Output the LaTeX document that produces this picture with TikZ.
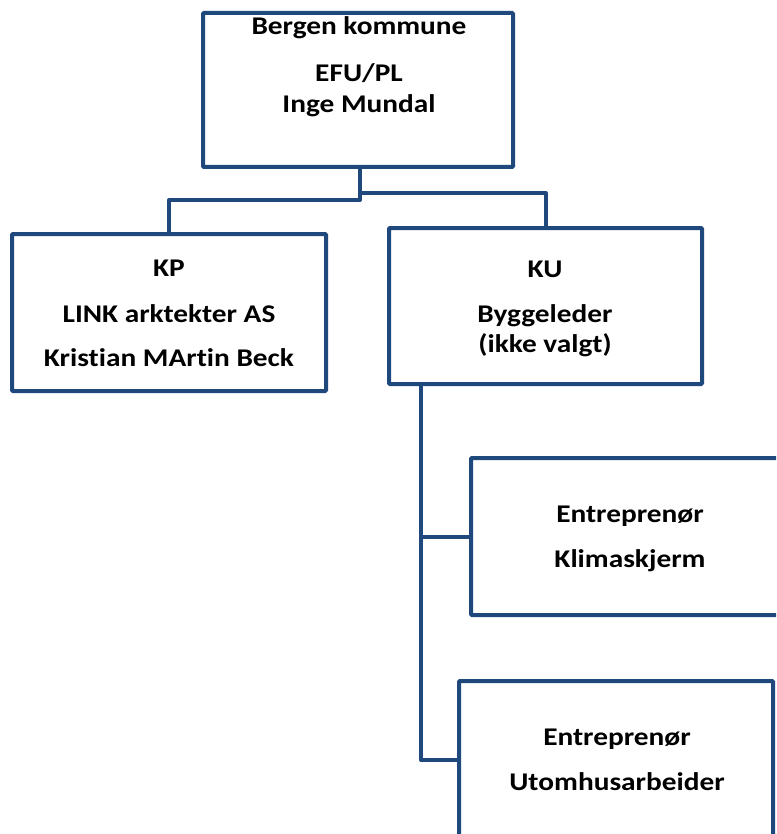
\documentclass[tikz,border=0pt]{standalone}
\usepackage{fontspec}
\setmainfont{Carlito}[Ligatures=NoCommon]
\definecolor{boxblue}{RGB}{31,73,125}
\begin{document}
\begin{tikzpicture}[x=1pt,y=-1pt,
  box/.style={draw=boxblue,line width=4pt,fill=white,inner sep=0pt,minimum width=314pt,minimum height=156pt,rounded corners=1pt},
  conn/.style={draw=boxblue,line width=4pt,line join=round},
  txt/.style={anchor=base,inner sep=0pt,xscale=1.15,transform shape,font=\fontsize{25.5}{30}\selectfont\bfseries}]
\useasboundingbox (0,0) rectangle (776,834);
\clip (0,0) rectangle (776,834);
% boxes
\node[box,minimum width=310pt,minimum height=154pt] (top) at (358,90) {};
\node[box,minimum width=314pt,minimum height=157pt] (kp) at (169,312.5) {};
\node[box,minimum width=313pt,minimum height=156pt] (ku) at (545.5,306) {};
\node[box,minimum width=314pt,minimum height=157pt] (klima) at (628,536.5) {};
\node[box,minimum width=314pt,minimum height=158pt] (utom) at (616,760) {};
% connectors
\coordinate (topout) at (360,167);
\coordinate (kuout) at (421,384);
\draw[conn] (topout) -- (360,200) -| (kp.north);
\draw[conn] (360,193) -| (ku.north);
\draw[conn] (kuout) |- (utom.west);
\draw[conn] (kuout |- klima.west) -- (klima.west);
% texts
\node[txt] (t1) at (359,35) {Bergen kommune};
\node[txt] (t2) at (359,82) {EFU/PL};
\node[txt] (t3) at (359,113) {Inge Mundal};
\node[txt] (k1) at (169,276) {KP};
\node[txt] (k2) at (169,322) {LINK arktekter AS};
\node[txt] (k3) at (169,366) {Kristian MArtin Beck};
\node[txt] (u1) at (545,277) {KU};
\node[txt] (u2) at (545,322) {Byggeleder};
\node[txt] (u3) at (545,352) {(ikke valgt)};
\node[txt] (e1) at (630,522) {Entreprenør};
\node[txt] (e2) at (630,567) {Klimaskjerm};
\node[txt] (f1) at (617,745) {Entreprenør};
\node[txt] (f2) at (617,790) {Utomhusarbeider};
\end{tikzpicture}
\end{document}
